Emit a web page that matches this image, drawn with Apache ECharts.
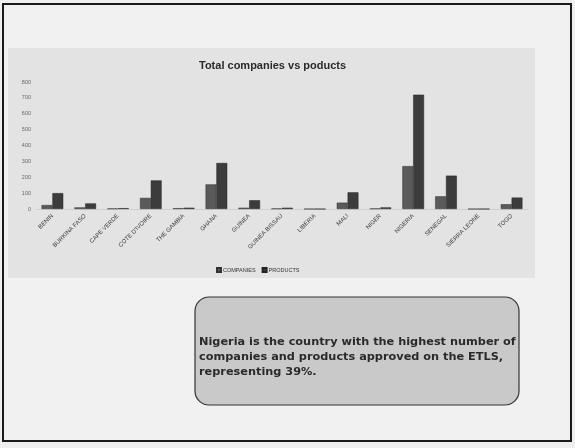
<!DOCTYPE html>
<html>
<head>
<meta charset="utf-8">
<script src="https://cdn.jsdelivr.net/npm/echarts@6/dist/echarts.min.js"></script>
<style>
html,body{margin:0;padding:0;background:#efefef;}
#c{width:575px;height:448px;}
</style>
</head>
<body>
<div id="c"></div>
<script>
var categories = ["BENIN","BURKINA FASO","CAPE VERDE","COTE D'IVOIRE","THE GAMBIA","GHANA","GUINEA","GUINEA BISSAU","LIBERIA","MALI","NIGER","NIGERIA","SENEGAL","SIERRA LEONE","TOGO"];
var companies = [25, 10, 3, 70, 5, 155, 8, 3, 0, 40, 3, 270, 80, 0, 30];
var products  = [100, 35, 5, 180, 8, 290, 55, 8, 0, 105, 10, 720, 210, 0, 72];
var yTicks = {min: 0, max: 800, interval: 100};
var titleText = "Total companies vs poducts";
var noteLines = ["Nigeria is the country with the highest number of", "companies and products approved on the ETLS,", "representing 39%."];

var chart = echarts.init(document.getElementById('c'), null, {renderer: 'canvas'});
chart.setOption({
  backgroundColor: '#efefef',
  animation: false,
  title: {
    text: titleText, left: 194, top: 55,
    textStyle: {fontFamily: 'Liberation Sans', fontSize: 11, fontWeight: 'bold', color: '#2a2a2a'}
  },
  legend: {
    top: 262, left: 211, itemWidth: 4, itemHeight: 4, itemGap: 6,
    icon: 'rect',
    textStyle: {fontFamily: 'Liberation Sans', fontSize: 5.5, color: '#333', padding: [0,0,0,-3]},
    data: ['COMPANIES', 'PRODUCTS']
  },
  grid: {left: 36, right: 47, top: 82, bottom: 239, containLabel: false},
  xAxis: {
    type: 'category', data: categories,
    axisLine: {show: true, lineStyle: {color: '#cfcfcf', width: 1}},
    axisTick: {show: false},
    axisLabel: {rotate: 45, fontSize: 6, color: '#3a3a3a', fontFamily: 'Liberation Sans', margin: 6, interval: 0}
  },
  yAxis: {
    type: 'value', min: yTicks.min, max: yTicks.max, interval: yTicks.interval,
    axisLine: {show: false}, axisTick: {show: false},
    splitLine: {show: false},
    axisLabel: {fontSize: 5.5, color: '#666', fontFamily: 'Liberation Sans', margin: 5}
  },
  graphic: [
    {type: 'rect', z: -10, shape: {x: 3, y: 4, width: 568, height: 437}, style: {fill: '#f1f1f1', stroke: '#1a1a1a', lineWidth: 2}},
    {type: 'rect', z: -9, shape: {x: 8, y: 48, width: 527, height: 230}, style: {fill: '#e3e3e3', stroke: null}},
    {type: 'rect', z: 5, shape: {x: 195, y: 297, width: 324, height: 108, r: 14}, style: {fill: '#c9c9c9', stroke: '#333', lineWidth: 1.2}},
    {type: 'text', z: 6, left: 199, top: 335, style: {text: noteLines.join('\n'), fontFamily: 'DejaVu Sans', fontSize: 11.3, fontWeight: 'bold', fill: '#2a2a2a', lineHeight: 15}}
  ],
  series: [
    {name: 'COMPANIES', type: 'bar', data: companies, barGap: '0%', barCategoryGap: '34%', itemStyle: {color: '#5a5a5a', borderColor: '#333', borderWidth: 0.5}},
    {name: 'PRODUCTS', type: 'bar', data: products, itemStyle: {color: '#3c3c3c', borderColor: '#222', borderWidth: 0.5}}
  ]
});
</script>
</body>
</html>
